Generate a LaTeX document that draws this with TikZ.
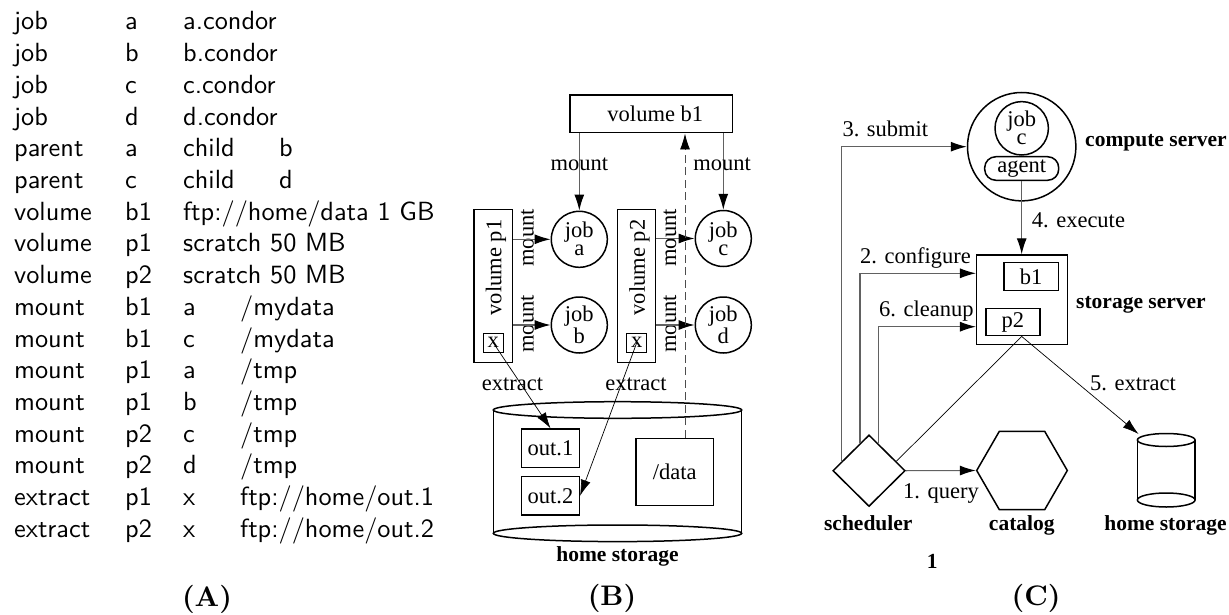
\documentclass[tikz,border=0pt]{standalone}
\usepackage{fontspec}
\newfontfamily\tms{Liberation Serif}
\newfontfamily\lmsf{lmsans10-regular.otf}
\newfontfamily\lmbf{lmroman10-bold.otf}
\usetikzlibrary{arrows.meta,shapes.geometric}
\newcommand{\TRowThree}[4]{%
  \pgfmathsetmacro{\ty}{30+(#1-1)*31.7}%
  \node[tab] (r#1a) at (14,\ty) {#2};
  \node[tab] (r#1b) at (125,\ty) {#3};
  \node[tab] (r#1c) at (183,\ty) {#4};}
\newcommand{\TRowFour}[6]{%
  \pgfmathsetmacro{\ty}{30+(#1-1)*31.7}%
  \node[tab] (r#1a) at (14,\ty) {#2};
  \node[tab] (r#1b) at (125,\ty) {#3};
  \node[tab] (r#1c) at (183,\ty) {#4};
  \node[tab] (r#1d) at (#5,\ty) {#6};}
\begin{document}
\begin{tikzpicture}[x=1pt,y=-1pt,
  tab/.style={anchor=base west,inner sep=0pt,font=\lmsf\fontsize{26.3}{30}\selectfont},
  lbl/.style={inner sep=0pt,font=\tms\fontsize{22.5}{17.5}\selectfont},
  blbl/.style={inner sep=0pt,font=\tms\bfseries\fontsize{21.5}{25}\selectfont},
  figcap/.style={anchor=base,inner sep=0pt,font=\lmbf\fontsize{28.3}{32}\selectfont},
  box/.style={draw,line width=1.5pt,inner sep=0pt,font=\tms\fontsize{22.5}{17.5}\selectfont},
  job/.style={draw,circle,line width=1.5pt,inner sep=0pt,minimum size=56pt,align=center,font=\tms\fontsize{22.5}{18}\selectfont},
  conn/.style={draw=black!62,line width=1.1pt,-{Latex[length=16pt,width=10pt,color=black]}},
  thinconn/.style={draw=black,line width=0.7pt,-{Latex[length=16pt,width=10pt]}},
  thinline/.style={draw=black,line width=0.7pt},
  dashconn/.style={draw=black!70,line width=0.9pt,dash pattern=on 8pt off 4.5pt,-{Latex[length=16pt,width=10pt,color=black]}},
  cyl/.style={line width=1.5pt},
  ]
\useasboundingbox (0,0) rectangle (1229,615);

% ---------------- (A) table ----------------
\TRowThree{1}{job}{a}{a.condor}
\TRowThree{2}{job}{b}{b.condor}
\TRowThree{3}{job}{c}{c.condor}
\TRowThree{4}{job}{d}{d.condor}
\TRowFour{5}{parent}{a}{child}{279}{b}
\TRowFour{6}{parent}{c}{child}{279}{d}
\TRowThree{7}{volume}{b1}{ftp://home/data 1 GB}
\TRowThree{8}{volume}{p1}{scratch 50 MB}
\TRowThree{9}{volume}{p2}{scratch 50 MB}
\TRowFour{10}{mount}{b1}{a}{240}{/mydata}
\TRowFour{11}{mount}{b1}{c}{240}{/mydata}
\TRowFour{12}{mount}{p1}{a}{240}{/tmp}
\TRowFour{13}{mount}{p1}{b}{240}{/tmp}
\TRowFour{14}{mount}{p2}{c}{240}{/tmp}
\TRowFour{15}{mount}{p2}{d}{240}{/tmp}
\TRowFour{16}{extract}{p1}{x}{240}{ftp://home/out.1}
\TRowFour{17}{extract}{p2}{x}{240}{ftp://home/out.2}
\node[figcap] (capA) at (207,606.5) {(A)};

% ---------------- (B) ----------------
\node[box,minimum width=162.7pt,minimum height=37.7pt] (vb1) at (651.3,113.9) {\hspace*{8pt}volume b1};
\node[job] (ja) at (579.3,239.3) {job\\a};
\node[job] (jb) at (579.3,325) {job\\b};
\node[job] (jc) at (723.3,238.5) {job\\c};
\node[job] (jd) at (723.3,325) {job\\d};

\node[box,minimum width=38.7pt,minimum height=153pt] (vp1) at (493.35,285.8) {};
\node[lbl,rotate=90] (vp1t) at (496,267.5) {volume p1};
\node[box,minimum width=20pt,minimum height=19pt] (xp1) at (493.3,342.8) {x};
\node[box,minimum width=38.4pt,minimum height=153pt] (vp2) at (636.5,285.8) {};
\node[lbl,rotate=90] (vp2t) at (639.5,267.5) {volume p2};
\node[box,minimum width=20pt,minimum height=19pt] (xp2) at (636.7,342.8) {x};

\node[lbl,rotate=90] (m1) at (527.3,238) {mount};
\node[lbl,rotate=90] (m2) at (527.3,324) {mount};
\node[lbl,rotate=90] (m3) at (670,238) {mount};
\node[lbl,rotate=90] (m4) at (670,324) {mount};

\draw[conn] (vp1.east |- ja.west) -- (ja.west);
\draw[conn] (vp1.east |- jb.west) -- (jb.west);
\draw[conn] (vp2.east |- jc.west) -- (jc.west);
\draw[conn] (vp2.east |- jd.west) -- (jd.west);
\draw[conn] (vb1.south -| ja.north) -- (ja.north);
\draw[conn] (vb1.south -| jc.north) -- (jc.north);
\node[lbl,anchor=base] (mb1) at (579.3,170.7) {mount};
\node[lbl,anchor=base] (mb2) at (722,170.7) {mount};

% home storage cylinder (B)
\draw[cyl] (493.3,410) -- (493.3,533.3) (741.7,410) -- (741.7,533.3);
\draw[cyl] (617.5,410) ellipse [x radius=124.2pt, y radius=8.3pt];
\draw[cyl] (617.5,533.3) ellipse [x radius=124.2pt, y radius=8.3pt];
\node[box,minimum width=57.6pt,minimum height=38.3pt] (out1) at (550.5,448.2) {out.1};
\node[box,minimum width=57.6pt,minimum height=38.3pt] (out2) at (550.5,495.8) {out.2};
\node[box,minimum width=77.3pt,minimum height=67.4pt] (data) at (674.7,472) {/data};

\draw[dashconn] ([xshift=10.3pt]data.north) -- ([xshift=10.3pt]data.north |- vb1.south);
\draw[thinconn] (xp1.center) -- (out1.north);
\draw[thinconn] (xp2.center) -- (out2.east);
\node[lbl,anchor=base] (ex1) at (512.5,390.7) {extract};
\node[lbl,anchor=base] (ex2) at (636,390.7) {extract};
\node[blbl,anchor=base] (hsB) at (617.5,561.7) {home storage};
\node[figcap] (capB) at (612,605) {(B)};

% ---------------- (C) ----------------
\node[draw,circle,line width=1.5pt,minimum size=108.4pt,inner sep=0pt] (cs) at (1021.7,146.7) {};
\node[job,minimum size=53.4pt] (jobc) at (1021.7,128.3) {job\\c};
\node[box,rounded corners=11pt,minimum width=74pt,minimum height=23.5pt] (agent) at (1021.7,168.5) {agent};
\node[blbl,anchor=base west] (csl) at (1085,146.7) {compute server};

\node[box,minimum width=90.6pt,minimum height=89.3pt] (ss) at (1022,299.7) {};
\node[box,minimum width=54.3pt,minimum height=28.4pt] (b1c) at (1031.2,276.5) {b1};
\node[box,minimum width=54.3pt,minimum height=27.4pt] (p2c) at (1012.9,322) {p2};
\node[blbl,anchor=base west] (ssl) at (1076,308.3) {storage server};

\draw[conn] (agent.south) -- (agent.south |- ss.north);
\node[lbl,anchor=base west] (exe) at (1031.7,227.7) {4. execute};

\node[draw,diamond,line width=1.5pt,minimum width=72.4pt,minimum height=71.6pt,inner sep=0pt] (sch) at (869,470.7) {};
\node[draw,regular polygon,regular polygon sides=6,minimum size=90.6pt,line width=1.5pt,inner sep=0pt] (cat) at (1022,470.5) {};

% home storage cylinder (C)
\draw[cyl] (1137.3,440) -- (1137.3,500) (1195,440) -- (1195,500);
\draw[cyl] (1166.2,440) ellipse [x radius=28.85pt, y radius=6.5pt];
\draw[cyl] (1166.2,500) ellipse [x radius=28.85pt, y radius=7pt];
\coordinate (hsCin) at (1138.5,434);

\draw[conn] (sch.162) |- (cs.west);
\draw[conn] (sch.108) |- ([yshift=26.4pt]ss.west);
\draw[conn] (sch.71) |- ([yshift=-27pt]ss.west);
\coordinate (p2cbot) at ([xshift=8.8pt]p2c.south);
\draw[thinline] (sch.19) -- (p2cbot);
\draw[thinconn] (p2cbot) -- (hsCin);
\draw[conn] (sch.east) -- (cat.west);

\node[lbl,anchor=base west] (sub) at (842.3,136.7) {3. submit};
\node[lbl,anchor=base west] (cfg) at (860,263.3) {2. configure};
\node[lbl,anchor=base west] (cln) at (879,316.7) {6. cleanup};
\node[lbl,anchor=base west] (ext5) at (1090,390) {5. extract};
\node[lbl,anchor=base] (qry) at (941,498.3) {1. query};
\node[blbl,anchor=base] (schl) at (868.3,530) {scheduler};
\node[blbl,anchor=base] (catl) at (1021.8,530) {catalog};
\node[blbl,anchor=base] (hsCl) at (1165.5,530) {home storage};
\node[blbl,anchor=base] (one) at (932.3,568.3) {1};
\node[figcap] (capC) at (1036,605) {(C)};
\end{tikzpicture}
\end{document}
